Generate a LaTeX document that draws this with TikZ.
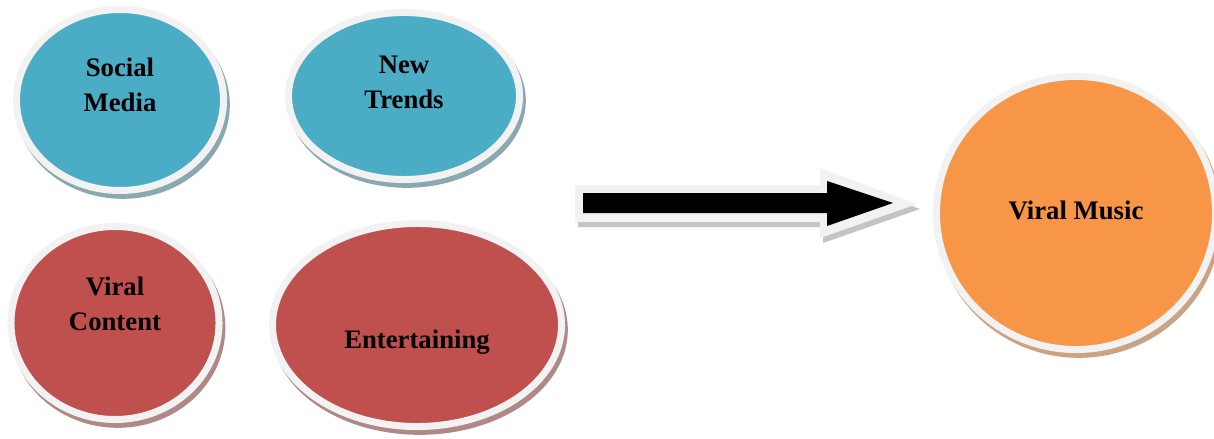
\documentclass[tikz,border=0pt]{standalone}
\usepackage{fontspec}
\setmainfont{Liberation Serif}
\usetikzlibrary{shapes.geometric,shadows}
\definecolor{aqua}{HTML}{4BACC6}
\definecolor{aquashade}{HTML}{8AA8B0}
\definecolor{brick}{HTML}{C0504D}
\definecolor{brickshade}{HTML}{B08886}
\definecolor{tangerine}{HTML}{F79646}
\definecolor{tangerineshade}{HTML}{C9A383}
\definecolor{rim}{HTML}{F2F2F2}
\definecolor{arrowshade}{HTML}{C4C4C4}
\begin{document}
\begin{tikzpicture}[x=0.025cm, y=-0.025cm,
    blob/.style 2 args={ellipse, inner sep=0pt, fill=#1, draw=rim, line width=0.175cm,
        drop shadow={shadow xshift=0.07cm, shadow yshift=-0.12cm, opacity=1,
            fill=#2, draw=#2, line width=0.175cm}},
    bubbletext/.style={font=\bfseries\fontsize{19}{25}\selectfont, align=center}]
    \useasboundingbox (0,0) rectangle (1214,439);
    %Social Media
    \node[blob={aqua}{aquashade}, minimum width=5.175cm, minimum height=4.525cm] (social) at (120,100) {};
    \node[bubbletext] (socialtxt) at (120,84.5) {Social\\Media};
    %New Trends
    \node[blob={aqua}{aquashade}, minimum width=5.775cm, minimum height=4.175cm] (trends) at (404,96) {};
    \node[bubbletext] (trendstxt) at (404,82.5) {New\\Trends};
    %Viral Content
    \node[blob={brick}{brickshade}, minimum width=5.2cm, minimum height=4.825cm] (content) at (115,323) {};
    \node[bubbletext] (contenttxt) at (115,303.5) {Viral\\Content};
    %Entertaining
    \node[blob={brick}{brickshade}, minimum width=7.225cm, minimum height=5.075cm] (fun) at (417,325) {};
    \node[bubbletext] (funtxt) at (417,342) {Entertaining};
    %Viral Music
    \node[blob={tangerine}{tangerineshade}, minimum width=6.975cm, minimum height=6.825cm] (music) at (1076,213) {};
    \node[bubbletext] (musictxt) at (1076,210) {Viral Music};
    %Block arrow
    \fill[arrowshade] (578,190) -- (823,190) -- (823,173) -- (920,209) -- (823,243) -- (823,227) -- (578,227) -- cycle;
    \fill[rim] (575,185) -- (820,185) -- (820,168) -- (917,204) -- (820,238) -- (820,222) -- (575,222) -- cycle;
    \fill[black] (583,193) -- (827,193) -- (827,181) -- (893,203) -- (827,226) -- (827,213) -- (583,213) -- cycle;
\end{tikzpicture}
\end{document}
